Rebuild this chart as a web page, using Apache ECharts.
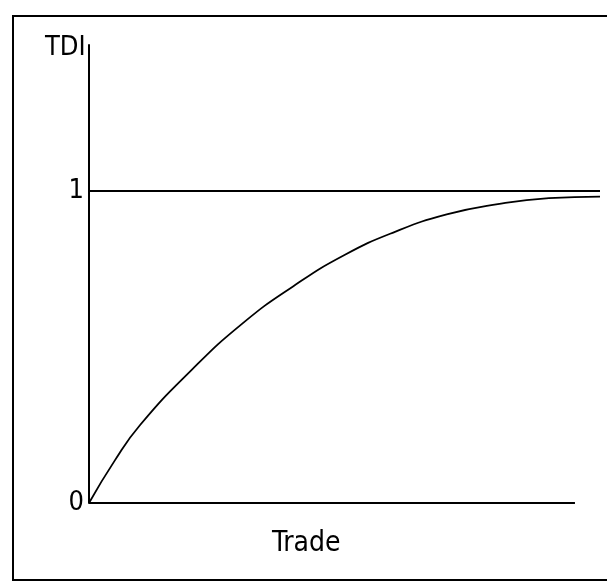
<!DOCTYPE html>
<html>
<head>
<meta charset="utf-8">
<script src="https://cdn.jsdelivr.net/npm/echarts@6/dist/echarts.min.js"></script>
<style>
  html, body { margin: 0; padding: 0; background: #fff; }
  #chart { width: 607px; height: 587px; }
</style>
</head>
<body>
<div id="chart"></div>
<script>
// data
const xVals = [0, 5, 10, 20, 30, 40, 50, 60, 70, 80, 90, 100]
const tdiVals = [0, 0.135, 0.25, 0.425, 0.575, 0.695, 0.795, 0.87, 0.925, 0.958, 0.977, 0.982]
const refLevel = 1
const xAxisEnd = 95.1
const yTickLabels = [0, 1]
const yName = 'TDI'
const xName = 'Trade'

const narrowFont = '"Liberation Sans Narrow", "DejaVu Sans Condensed", sans-serif'

let curve = xVals.map((x, i) => [x, tdiVals[i]])

let option = {
  backgroundColor: '#fff',
  animation: false,
  grid: { left: 89, right: 7, top: 45, bottom: 84 },
  xAxis: {
    type: 'value',
    min: 0,
    max: 100,
    show: false,
  },
  yAxis: {
    type: 'value',
    min: 0,
    max: 1.468,
    axisLine: { show: true, lineStyle: { color: '#000', width: 2 } },
    axisTick: { show: false },
    splitLine: { show: false },
    axisLabel: {
      customValues: yTickLabels,
      color: '#000',
      fontSize: 27,
      fontFamily: narrowFont,
      margin: 5,
    },
  },
  graphic: [
    {
      type: 'rect',
      shape: { x: 13, y: 16, width: 640, height: 564 },
      style: { fill: 'none', stroke: '#000', lineWidth: 2 },
    },
    {
      type: 'text',
      x: 45,
      y: 34,
      style: { text: yName, fontSize: 27, fontFamily: narrowFont, fill: '#000' },
    },
    {
      type: 'text',
      x: 272,
      y: 530,
      style: { text: xName, fontSize: 28, fontFamily: narrowFont, fill: '#000' },
    },
  ],
  series: [
    {
      // x axis drawn as a line so it can stop short of the curve
      type: 'line',
      data: [[0, 0], [xAxisEnd, 0]],
      symbol: 'none',
      lineStyle: { color: '#000', width: 2 },
    },
    {
      type: 'line',
      data: [[0, refLevel], [100, refLevel]],
      symbol: 'none',
      lineStyle: { color: '#000', width: 1.8 },
    },
    {
      type: 'line',
      data: curve,
      smooth: true,
      symbol: 'none',
      lineStyle: { color: '#000', width: 1.8 },
    },
  ],
}

let mychart = echarts.init(document.getElementById('chart'))
mychart.setOption(option)
</script>
</body>
</html>
